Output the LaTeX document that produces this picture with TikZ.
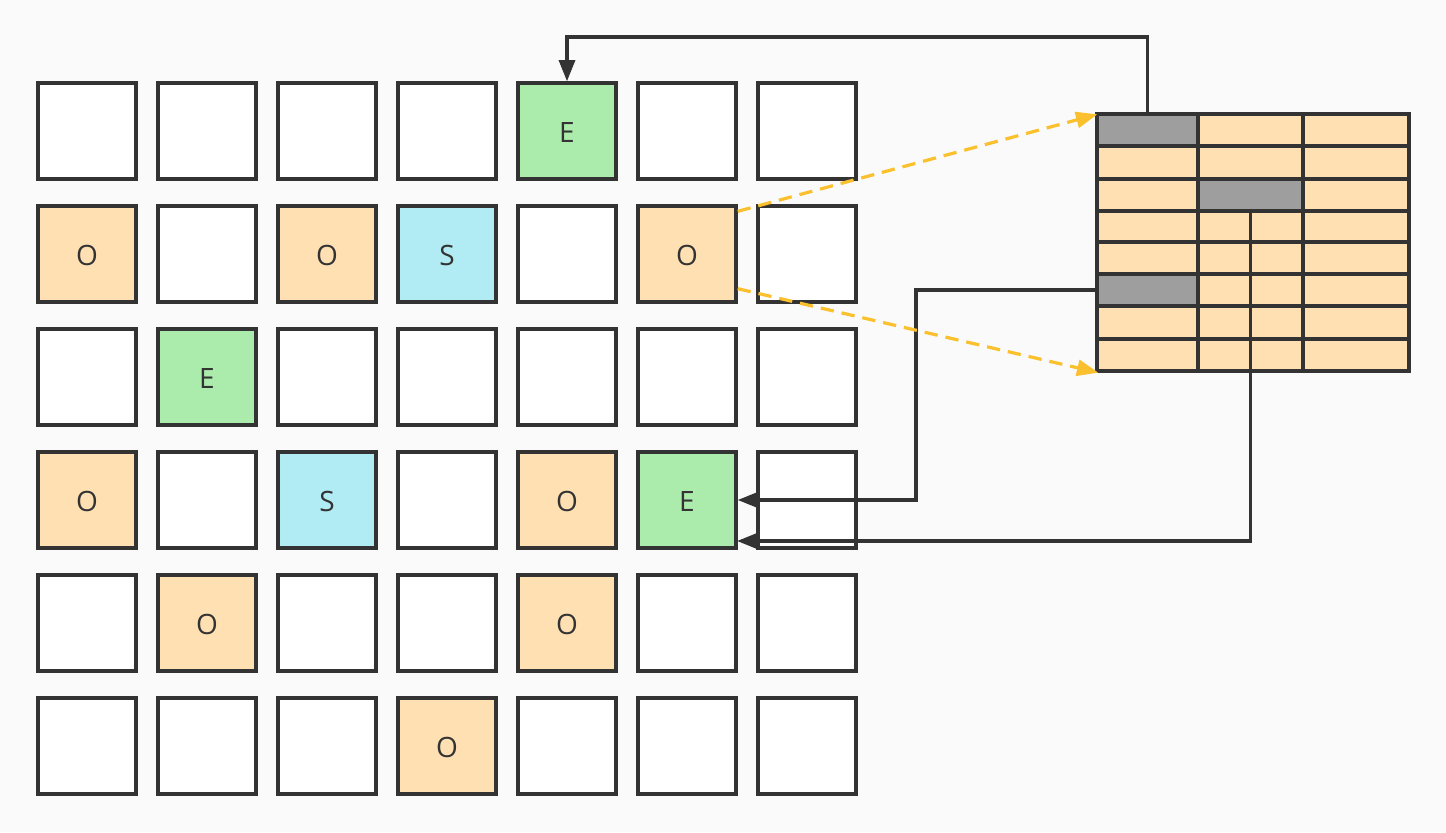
\documentclass[tikz,border=0pt]{standalone}
\usepackage{fontspec}
\setmainfont{Open Sans}
\usetikzlibrary{arrows.meta,calc}
\definecolor{bg}{HTML}{FAFAFA}
\definecolor{ln}{HTML}{333333}
\definecolor{orng}{HTML}{FFE0B3}
\definecolor{grn}{HTML}{ABEBAB}
\definecolor{blu}{HTML}{B1EBF3}
\definecolor{gry}{HTML}{9E9E9E}
\definecolor{ylw}{HTML}{FBC02D}
\newcommand{\cellletter}[1]{\raisebox{-2pt}{#1}}
\tikzset{
  cellbox/.style={draw=ln, line width=2.5pt, fill=white, minimum width=73.5pt, minimum height=72pt, inner sep=0pt, text=ln, font=\fontsize{21}{25}\selectfont, text depth=0pt},
  ocell/.style={cellbox, fill=orng},
  ecell/.style={cellbox, fill=grn},
  scell/.style={cellbox, fill=blu},
  tcell/.style={draw=ln, line width=2.5pt, fill=orng, inner sep=0pt},
  gcell/.style={tcell, fill=gry},
  conn/.style={draw=ln, line width=2.6pt, -{Triangle[length=16pt,width=12pt]}},
  dconn/.style={draw=ylw, line width=2.4pt, dash pattern=on 10pt off 6pt, -{Triangle[length=16pt,width=12pt,fill=ylw]}},
}
\begin{document}
\begin{tikzpicture}[x=0.75pt,y=-0.75pt]
\fill[bg] (0,0) rectangle (1446,832);
\useasboundingbox (0,0) rectangle (1446,832);
% grid cells
\foreach \r/\yy in {1/131,2/254,3/377,4/500,5/623,6/746}{
  \foreach \c/\xx in {1/87,2/207,3/327,4/447,5/567,6/687,7/807}{
    \node[cellbox] (c-\r-\c) at (\xx,\yy) {};
  }
}
% coloured cells
\node[ecell] (e1) at (c-1-5) {\cellletter{E}};
\node[ocell] (o1) at (c-2-1) {\cellletter{O}};
\node[ocell] (o2) at (c-2-3) {\cellletter{O}};
\node[scell] (s1) at (c-2-4) {\cellletter{S}};
\node[ocell] (o3) at (c-2-6) {\cellletter{O}};
\node[ecell] (e2) at (c-3-2) {\cellletter{E}};
\node[ocell] (o4) at (c-4-1) {\cellletter{O}};
\node[scell] (s2) at (c-4-3) {\cellletter{S}};
\node[ocell] (o5) at (c-4-5) {\cellletter{O}};
\node[ecell] (e3) at (c-4-6) {\cellletter{E}};
\node[ocell] (o6) at (c-5-2) {\cellletter{O}};
\node[ocell] (o7) at (c-5-5) {\cellletter{O}};
\node[ocell] (o8) at (c-6-4) {\cellletter{O}};
% table
\foreach \r/\ya/\yb in {1/114/146,2/146/179,3/179/211,4/211/242,5/242/274,6/274/306,7/306/339,8/339/371}{
  \foreach \c/\xa/\xb in {1/1097/1198,2/1198/1303,3/1303/1409}{
    \node[tcell, minimum width={(\xb-\xa)*0.75pt}, minimum height={(\yb-\ya)*0.75pt}] (t-\r-\c) at ({(\xa+\xb)/2},{(\ya+\yb)/2}) {};
  }
}
\node[gcell, minimum width=75.75pt, minimum height=24pt] (g1) at (t-1-1) {};
\node[gcell, minimum width=78.75pt, minimum height=24pt] (g2) at (t-3-2) {};
\node[gcell, minimum width=75.75pt, minimum height=24pt] (g3) at (t-6-1) {};
% connectors
\coordinate (k1) at (1149,37);
\coordinate (b1) at (916,500);
\coordinate (b2) at (737,541);
\draw[conn] (g1.north) -- (g1.north |- k1) -| (e1.north);
\draw[conn] (g3.west) -| (b1) -- (e3.east);
\draw[conn] (g2.south) |- (b2);
\draw[dconn] ($(o3.north east)+(0,7)$) -- ($(g1.north west)+(2,2)$);
\draw[dconn] ($(o3.south east)+(0,-15)$) -- ($(t-8-1.south west)+(3,0)$);
\end{tikzpicture}
\end{document}
